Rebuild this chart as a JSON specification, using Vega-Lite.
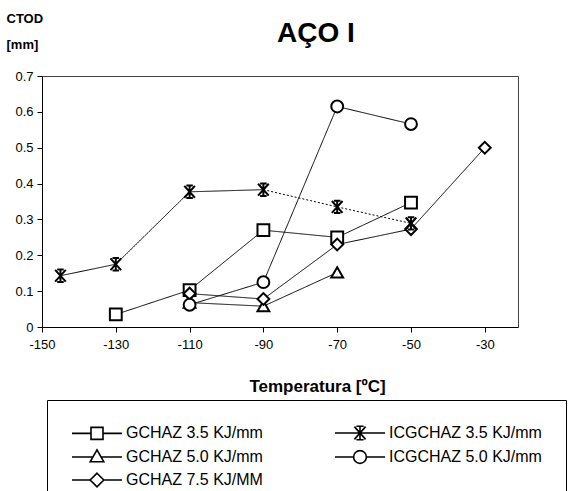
{
  "$schema": "https://vega.github.io/schema/vega-lite/v6.json",
  "autosize": {"type": "none"},
  "padding": {"left": 42, "top": 76, "right": 60, "bottom": 164},
  "width": 476,
  "height": 251,
  "background": "white",
  "config": {
    "font": "Liberation Sans",
    "view": {"stroke": "#444", "strokeWidth": 1},
    "axis": {"domainColor": "black", "tickColor": "black", "labelColor": "black", "titleColor": "black", "grid": false}
  },
  "title": {"text": "AÇO I", "frame": "group", "anchor": "middle", "dx": 36, "dy": 58, "fontSize": 28, "fontWeight": "bold", "font": "Liberation Sans", "color": "black", "offset": 0, "baseline": "alphabetic"},
  "datasets": {
    "pts": [
      {"series": "GCHAZ 3.5 KJ/mm", "t": -130, "ctod": 0.035},
      {"series": "GCHAZ 3.5 KJ/mm", "t": -110, "ctod": 0.103},
      {"series": "GCHAZ 3.5 KJ/mm", "t": -90, "ctod": 0.27},
      {"series": "GCHAZ 3.5 KJ/mm", "t": -70, "ctod": 0.25},
      {"series": "GCHAZ 3.5 KJ/mm", "t": -50, "ctod": 0.347},
      {"series": "GCHAZ 5.0 KJ/mm", "t": -110, "ctod": 0.068},
      {"series": "GCHAZ 5.0 KJ/mm", "t": -90, "ctod": 0.058},
      {"series": "GCHAZ 5.0 KJ/mm", "t": -70, "ctod": 0.152},
      {"series": "GCHAZ 7.5 KJ/MM", "t": -110, "ctod": 0.093},
      {"series": "GCHAZ 7.5 KJ/MM", "t": -90, "ctod": 0.078},
      {"series": "GCHAZ 7.5 KJ/MM", "t": -70, "ctod": 0.23},
      {"series": "GCHAZ 7.5 KJ/MM", "t": -50, "ctod": 0.273},
      {"series": "GCHAZ 7.5 KJ/MM", "t": -30, "ctod": 0.5},
      {"series": "ICGCHAZ 3.5 KJ/mm", "t": -145, "ctod": 0.143},
      {"series": "ICGCHAZ 3.5 KJ/mm", "t": -130, "ctod": 0.175},
      {"series": "ICGCHAZ 3.5 KJ/mm", "t": -110, "ctod": 0.377},
      {"series": "ICGCHAZ 3.5 KJ/mm", "t": -90, "ctod": 0.383},
      {"series": "ICGCHAZ 3.5 KJ/mm", "t": -70, "ctod": 0.335},
      {"series": "ICGCHAZ 3.5 KJ/mm", "t": -50, "ctod": 0.289},
      {"series": "ICGCHAZ 5.0 KJ/mm", "t": -110, "ctod": 0.062},
      {"series": "ICGCHAZ 5.0 KJ/mm", "t": -90, "ctod": 0.125},
      {"series": "ICGCHAZ 5.0 KJ/mm", "t": -70, "ctod": 0.615},
      {"series": "ICGCHAZ 5.0 KJ/mm", "t": -50, "ctod": 0.566}
    ],
    "lines": [
      {"series": "GCHAZ 3.5 KJ/mm", "seg": "solid", "t": -130, "ctod": 0.035},
      {"series": "GCHAZ 3.5 KJ/mm", "seg": "solid", "t": -110, "ctod": 0.103},
      {"series": "GCHAZ 3.5 KJ/mm", "seg": "solid", "t": -90, "ctod": 0.27},
      {"series": "GCHAZ 3.5 KJ/mm", "seg": "solid", "t": -70, "ctod": 0.25},
      {"series": "GCHAZ 3.5 KJ/mm", "seg": "solid", "t": -50, "ctod": 0.347},
      {"series": "GCHAZ 5.0 KJ/mm", "seg": "solid", "t": -110, "ctod": 0.068},
      {"series": "GCHAZ 5.0 KJ/mm", "seg": "solid", "t": -90, "ctod": 0.058},
      {"series": "GCHAZ 5.0 KJ/mm", "seg": "solid", "t": -70, "ctod": 0.152},
      {"series": "GCHAZ 7.5 KJ/MM", "seg": "solid", "t": -110, "ctod": 0.093},
      {"series": "GCHAZ 7.5 KJ/MM", "seg": "solid", "t": -90, "ctod": 0.078},
      {"series": "GCHAZ 7.5 KJ/MM", "seg": "solid", "t": -70, "ctod": 0.23},
      {"series": "GCHAZ 7.5 KJ/MM", "seg": "solid", "t": -50, "ctod": 0.273},
      {"series": "GCHAZ 7.5 KJ/MM", "seg": "solid", "t": -30, "ctod": 0.5},
      {"series": "ICGCHAZ 3.5 KJ/mm", "seg": "solid", "t": -145, "ctod": 0.143},
      {"series": "ICGCHAZ 3.5 KJ/mm", "seg": "solid", "t": -130, "ctod": 0.175},
      {"series": "ICGCHAZ 3.5 KJ/mm", "seg": "solid", "t": -110, "ctod": 0.377},
      {"series": "ICGCHAZ 3.5 KJ/mm", "seg": "solid", "t": -90, "ctod": 0.383},
      {"series": "ICGCHAZ 3.5 KJ/mm", "seg": "dotted", "t": -90, "ctod": 0.383},
      {"series": "ICGCHAZ 3.5 KJ/mm", "seg": "dotted", "t": -70, "ctod": 0.335},
      {"series": "ICGCHAZ 3.5 KJ/mm", "seg": "dotted", "t": -50, "ctod": 0.289},
      {"series": "ICGCHAZ 5.0 KJ/mm", "seg": "solid", "t": -110, "ctod": 0.062},
      {"series": "ICGCHAZ 5.0 KJ/mm", "seg": "solid", "t": -90, "ctod": 0.125},
      {"series": "ICGCHAZ 5.0 KJ/mm", "seg": "solid", "t": -70, "ctod": 0.615},
      {"series": "ICGCHAZ 5.0 KJ/mm", "seg": "solid", "t": -50, "ctod": 0.566}
    ]
  },
  "encoding": {
    "x": {
      "field": "t", "type": "quantitative",
      "scale": {"domain": [-150, -21], "nice": false, "zero": false},
      "axis": {
        "values": [-150, -130, -110, -90, -70, -50, -30],
        "labelExpr": "'' + datum.value",
        "labelFontSize": 13, "labelPadding": 6, "tickSize": 5, "labelFlush": false,
        "title": "Temperatura [ºC]", "titleFontSize": 17, "titleFontWeight": "bold",
        "titleX": 275, "titleY": 64, "titleBaseline": "alphabetic", "titleAlign": "center"
      }
    },
    "y": {
      "field": "ctod", "type": "quantitative",
      "scale": {"domain": [0, 0.7], "nice": false},
      "axis": {
        "values": [0, 0.1, 0.2, 0.3, 0.4, 0.5, 0.6, 0.7], "format": ".1~f",
        "labelFontSize": 13, "labelPadding": 4, "tickSize": 5, "labelFlush": false,
        "title": ["CTOD", "[mm]"], "titleAngle": 0, "titleAlign": "left", "titleBaseline": "top",
        "titleX": -36, "titleY": -64, "titleFontSize": 13, "titleFontWeight": "bold", "titleLineHeight": 26
      }
    }
  },
  "layer": [
    {
      "data": {"name": "lines"},
      "mark": {"type": "line", "color": "black", "strokeWidth": 1},
      "encoding": {
        "detail": [{"field": "series"}, {"field": "seg"}],
        "strokeDash": {"field": "seg", "type": "nominal", "scale": {"domain": ["solid", "dotted"], "range": [[1, 0], [2, 2]]}, "legend": null}
      }
    },
    {
      "data": {"name": "pts"},
      "mark": {"type": "point", "filled": true, "fill": "white", "stroke": "black", "strokeWidth": 2, "size": 140, "opacity": 1},
      "encoding": {
        "shape": {
          "field": "series", "type": "nominal",
          "scale": {
            "domain": ["GCHAZ 3.5 KJ/mm", "GCHAZ 5.0 KJ/mm", "GCHAZ 7.5 KJ/MM", "ICGCHAZ 3.5 KJ/mm", "ICGCHAZ 5.0 KJ/mm"],
            "range": ["square", "triangle-up", "diamond", "M-0.9,-1L0.9,1M-0.9,1L0.9,-1M0,-1.05V1.05M-0.55,-1.05H0.55M-0.55,1.05H0.55", "circle"]
          },
          "legend": null
        }
      }
    },
    {
      "data": {"name": "pts"},
      "transform": [{"filter": "datum.t > 1000"}],
      "mark": {"type": "point", "filled": false, "stroke": "black", "strokeWidth": 1.5, "size": 256},
      "encoding": {
        "shape": {
          "field": "series", "type": "nominal",
          "scale": {
            "domain": ["GCHAZ 3.5 KJ/mm", "GCHAZ 5.0 KJ/mm", "GCHAZ 7.5 KJ/MM", "ICGCHAZ 3.5 KJ/mm", "ICGCHAZ 5.0 KJ/mm"],
            "range": [
              "M-1,0H1.375M2.875,0H5.25M1.375,-0.75H2.875V0.75H1.375Z",
              "M-1,0H1.615M2.635,0H5.25M2.125,-0.9L2.975,0.6H1.275Z",
              "M-1,0H1.275M2.975,0H5.25M2.125,-0.85L2.975,0L2.125,0.85L1.275,0Z",
              "M-1,0H5.25M1.425,-0.8L2.825,0.8M1.425,0.8L2.825,-0.8M2.125,-0.85V0.85M1.675,-0.85H2.575M1.675,0.85H2.575",
              "M-1,0H1.325M2.925,0H5.25M2.925,0A0.8,0.8,0,1,1,1.325,0A0.8,0.8,0,1,1,2.925,0Z"
            ]
          },
          "legend": {
            "title": null, "orient": "none", "legendX": 5, "legendY": 324,
            "columns": 2, "columnPadding": 68, "rowPadding": 3, "padding": 24,
            "strokeColor": "black", "fillColor": "white",
            "symbolSize": 256, "symbolStrokeWidth": 1.6, "symbolOpacity": 1,
            "symbolStrokeColor": "black",
            "labelFontSize": 16, "labelColor": "black", "labelOffset": 37, "labelLimit": 300
          }
        }
      }
    }
  ],
  "resolve": {"scale": {"shape": "independent", "strokeDash": "independent"}, "legend": {"shape": "independent"}}
}
